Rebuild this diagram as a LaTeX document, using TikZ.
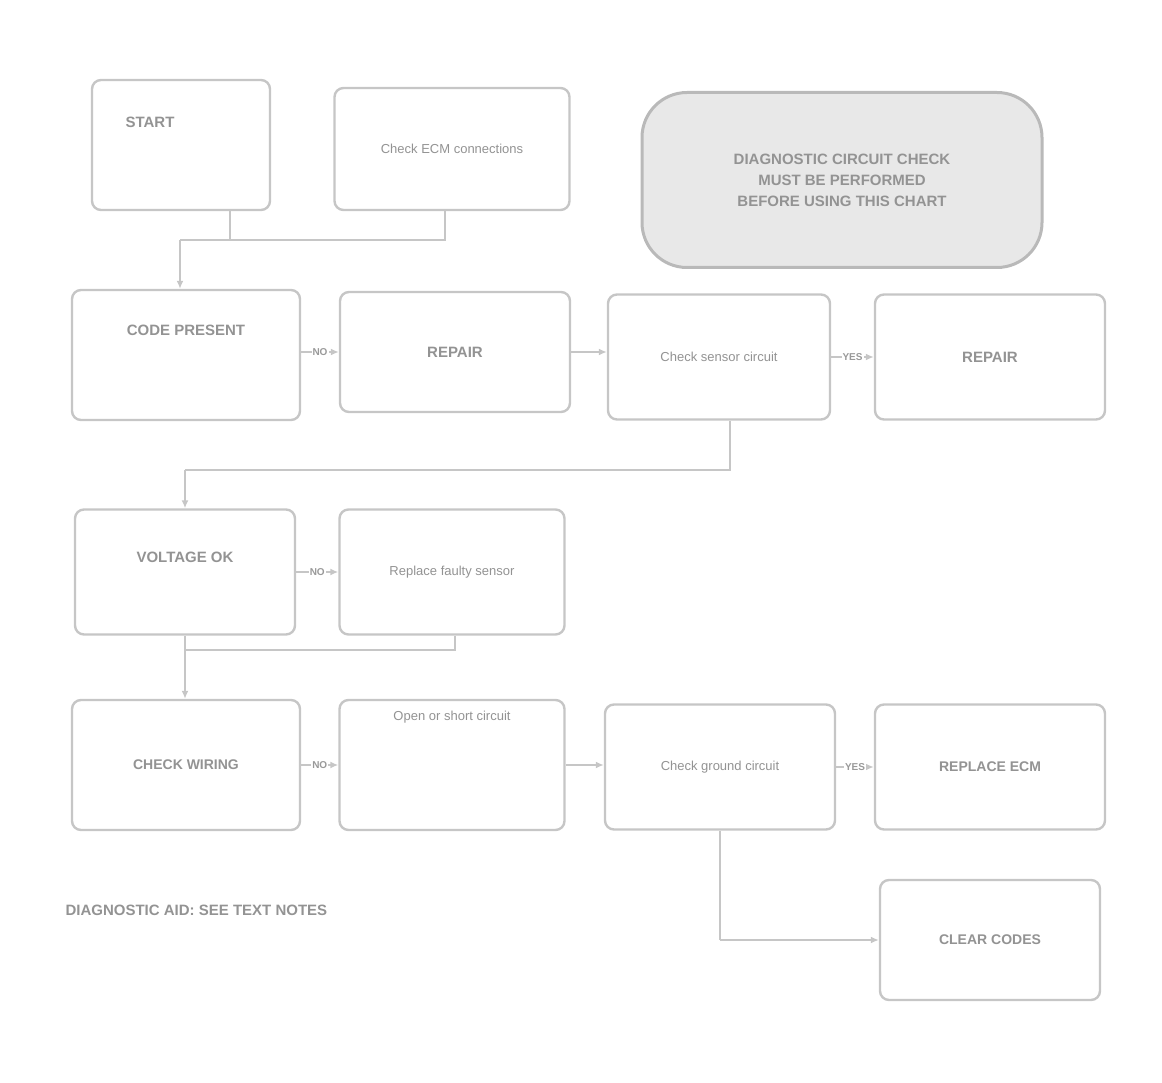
\documentclass[tikz,border=0pt]{standalone}
\usepackage{fontspec}
\setmainfont{Liberation Sans}
\usetikzlibrary{arrows.meta,positioning}
\begin{document}
\begin{tikzpicture}[x=1pt,y=-1pt,
  stepbox/.style={draw=gray!45,line width=2.4pt,rounded corners=9pt,fill=white,align=center,
     text=gray!85,font=\fontsize{13}{15}\selectfont},
  title/.style={font=\bfseries\fontsize{15}{17}\selectfont,text=gray!85},
  conn/.style={draw=gray!45,line width=2pt},
  arr/.style={conn,-{Latex[length=8pt,width=7pt]}},
  lab/.style={font=\bfseries\fontsize{10}{12}\selectfont,text=gray!80,fill=white,inner sep=1pt}]
\path[use as bounding box] (0,0) rectangle (1162,1083);

% row 1
\node[stepbox,minimum width=178pt,minimum height=130pt,anchor=center] (A) at (181,145) {};
\node[title,anchor=west] (At) at (122,122) {START};
\node[stepbox,minimum width=235pt,minimum height=122pt] (B) at (452,149) {Check ECM connections};
\node[draw=gray!55,line width=3pt,rounded corners=45pt,fill=gray!18,minimum width=400pt,minimum height=175pt,
      align=center,text=gray!85,font=\bfseries\fontsize{15}{21}\selectfont] (Z) at (842,180)
      {DIAGNOSTIC CIRCUIT CHECK\\ MUST BE PERFORMED\\ BEFORE USING THIS CHART};

% row 2
\node[stepbox,minimum width=228pt,minimum height=130pt] (C) at (186,355) {};
\node[title] (Ct) at (186,330) {CODE PRESENT};
\node[stepbox,minimum width=230pt,minimum height=120pt,font=\bfseries\fontsize{15}{17}\selectfont] (D) at (455,352) {REPAIR};
\node[stepbox,minimum width=222pt,minimum height=125pt] (E) at (719,357) {Check sensor circuit};
\node[stepbox,minimum width=230pt,minimum height=125pt,font=\bfseries\fontsize{15}{17}\selectfont] (F) at (990,357) {REPAIR};

% row 3
\node[stepbox,minimum width=220pt,minimum height=125pt] (G) at (185,572) {};
\node[title] (Gt) at (185,557) {VOLTAGE OK};
\node[stepbox,minimum width=225pt,minimum height=125pt] (H) at (452,572) {Replace faulty sensor};

% row 4
\node[stepbox,minimum width=228pt,minimum height=130pt,font=\bfseries\fontsize{14}{16}\selectfont] (I) at (186,765) {CHECK WIRING};
\node[stepbox,minimum width=225pt,minimum height=130pt] (J) at (452,765) {};
\node[anchor=center,text=gray!85,font=\fontsize{13}{15}\selectfont] (Jt) at (452,717) {Open or short circuit};
\node[stepbox,minimum width=230pt,minimum height=125pt] (K) at (720,767) {Check ground circuit};
\node[stepbox,minimum width=230pt,minimum height=125pt,font=\bfseries\fontsize{14}{16}\selectfont] (L) at (990,767) {REPLACE ECM};

% row 5
\node[stepbox,minimum width=220pt,minimum height=120pt,font=\bfseries\fontsize{14}{16}\selectfont] (M) at (990,940) {CLEAR CODES};
\node[font=\bfseries\fontsize{15}{17}\selectfont,text=gray!85,anchor=west] (N) at (62,910) {DIAGNOSTIC AID: SEE TEXT NOTES};

% connectors
\coordinate (j1) at (445,240);
\coordinate (j2) at (230,240);
\coordinate (j3) at (180,240);
\draw[conn] (B.south -| j1) -- (j1) -- (j3);
\draw[conn] (A.south -| j2) -- (j2);
\draw[arr] (j3) -- (C.north -| j3);

\coordinate (e1) at (730,470);
\coordinate (e2) at (185,470);
\draw[conn] (E.south -| e1) -- (e1) -- (e2);
\draw[arr] (e2) -- (G.north -| e2);

\coordinate (h1) at (455,650);
\coordinate (h2) at (185,650);
\draw[conn] (H.south -| h1) -- (h1) -- (h2);
\draw[arr] (G.south -| h2) -- (h2) -- (I.north -| h2);

\coordinate (k1) at (720,940);
\draw[conn] (K.south -| k1) -- (k1);
\draw[arr] (k1) -- (M.west);

\draw[arr] (D.west -| C.east) -- node[lab] {NO} (D.west);
\draw[arr] (D.east) -- (D.east -| E.west);
\draw[arr] (E.east) -- node[lab] {YES} (F.west);
\draw[arr] (G.east) -- node[lab] {NO} (H.west);
\draw[arr] (I.east) -- node[lab] {NO} (J.west);
\draw[arr] (J.east) -- (J.east -| K.west);
\draw[arr] (K.east) -- node[lab] {YES} (L.west);
\end{tikzpicture}
\end{document}
